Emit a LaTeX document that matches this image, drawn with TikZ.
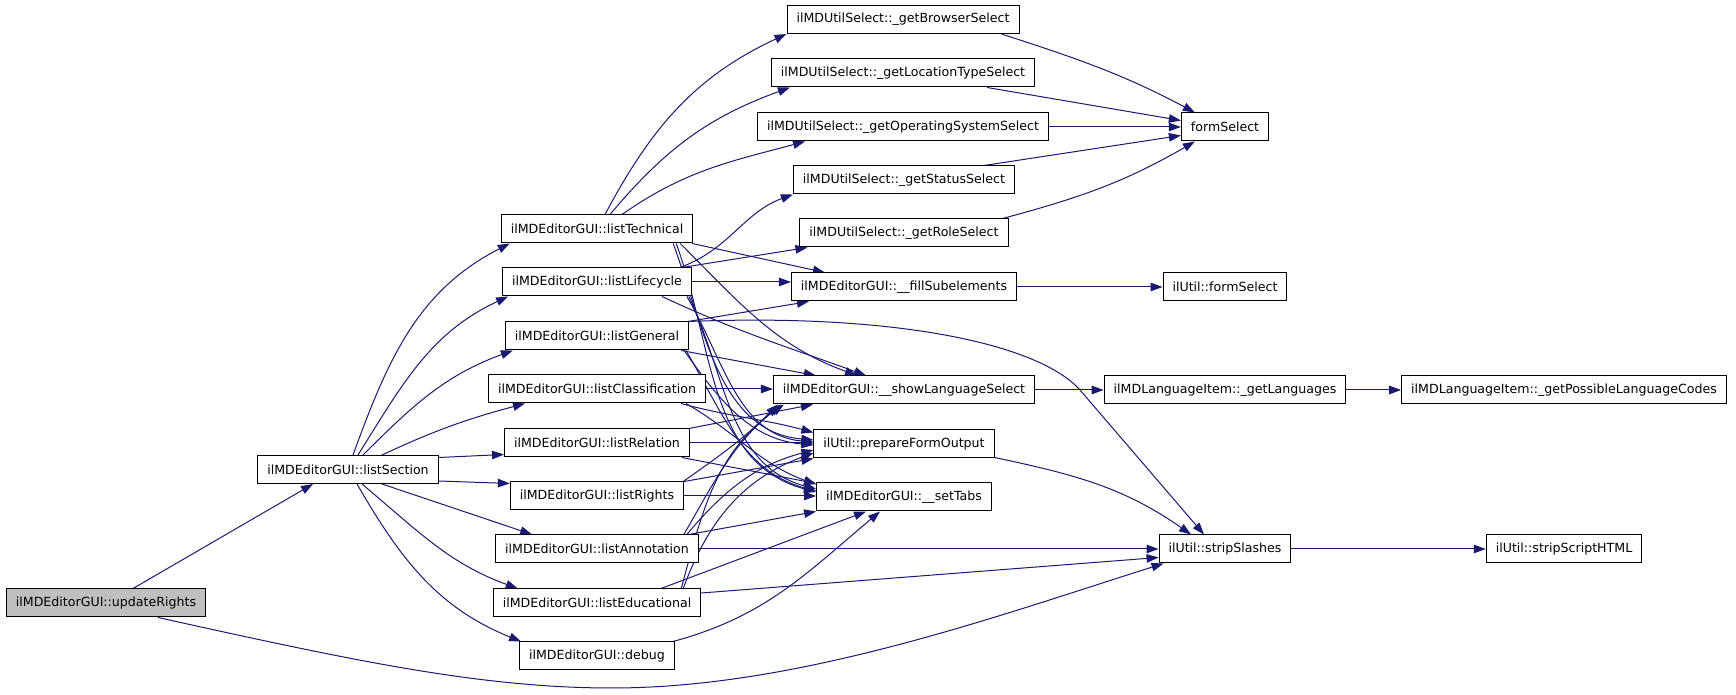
\documentclass[tikz,border=0pt]{standalone}
\usepackage{fontspec}
\setmainfont{DejaVu Sans}
\usetikzlibrary{arrows.meta,backgrounds}
\definecolor{edgecol}{HTML}{191970}
\definecolor{hl}{HTML}{BFBFBF}
\begin{document}
\begin{tikzpicture}[x=1pt,y=1pt,
  fn/.style={draw=black, line width=1pt, fill=white, minimum height=28pt, inner xsep=9.5pt, inner ysep=0pt, font=\fontsize{12.6}{14}\selectfont, anchor=center},
  e/.style={draw=edgecol, line width=1pt, -{Triangle[length=12pt,width=8.5pt]}}]
\useasboundingbox (0,0) rectangle (1736,695);
% nodes
\node[fn, fill=hl] (ur) at (106,92) {ilMDEditorGUI::updateRights};
\node[fn] (ls) at (348,225.5) {ilMDEditorGUI::listSection};
\node[fn] (lt) at (597,466) {ilMDEditorGUI::listTechnical};
\node[fn] (ll) at (597,413) {ilMDEditorGUI::listLifecycle};
\node[fn] (lg) at (597,359) {ilMDEditorGUI::listGeneral};
\node[fn] (lc) at (597,306) {ilMDEditorGUI::listClassification};
\node[fn] (lr) at (597,252) {ilMDEditorGUI::listRelation};
\node[fn] (lrt) at (597,199) {ilMDEditorGUI::listRights};
\node[fn] (la) at (597,146) {ilMDEditorGUI::listAnnotation};
\node[fn] (le) at (597,92) {ilMDEditorGUI::listEducational};
\node[fn] (dbg) at (597,39) {ilMDEditorGUI::debug};
\node[fn] (bs) at (903,675.5) {ilMDUtilSelect::\_getBrowserSelect};
\node[fn] (lts) at (903,622) {ilMDUtilSelect::\_getLocationTypeSelect};
\node[fn] (oss) at (903,568) {ilMDUtilSelect::\_getOperatingSystemSelect};
\node[fn] (ss) at (904,515) {ilMDUtilSelect::\_getStatusSelect};
\node[fn] (rs) at (904,462) {ilMDUtilSelect::\_getRoleSelect};
\node[fn] (fs) at (904,408) {ilMDEditorGUI::\_\_fillSubelements};
\node[fn] (sls) at (904,305) {ilMDEditorGUI::\_\_showLanguageSelect};
\node[fn] (pfo) at (904,251) {ilUtil::prepareFormOutput};
\node[fn] (st) at (904,198) {ilMDEditorGUI::\_\_setTabs};
\node[fn] (fsel) at (1225,568) {formSelect};
\node[fn] (ufs) at (1225,408) {ilUtil::formSelect};
\node[fn] (gl) at (1225,305) {ilMDLanguageItem::\_getLanguages};
\node[fn] (ssl) at (1225,146) {ilUtil::stripSlashes};
\node[fn] (gplc) at (1564,305) {ilMDLanguageItem::\_getPossibleLanguageCodes};
\node[fn] (ssh) at (1564,146) {ilUtil::stripScriptHTML};
\begin{scope}[on background layer]
% updateRights
\draw[e] ([xshift=27pt]ur.north) -- ([xshift=-35pt]ls.south);
\draw[e] ([xshift=52pt]ur.south) .. controls (350,35) and (480,7) .. (612,7) .. controls (800,7) and (1000,80) .. ([xshift=5pt]ssl.south west);
% listSection
\draw[e] ([xshift=5pt]ls.north) to[out=70,in=207] ([xshift=9pt]lt.south west);
\draw[e] ([xshift=10pt]ls.north) to[out=58,in=205] ([xshift=6pt]ll.south west);
\draw[e] ([xshift=15pt]ls.north) to[out=45,in=200] ([xshift=8pt]lg.south west);
\draw[e] ([xshift=34pt]ls.north) to[out=25,in=195] ([xshift=37pt]lc.south west);
\draw[e] ([yshift=-2.5pt]ls.north east) -- ([yshift=3pt]lr.south west);
\draw[e] ([yshift=3pt]ls.south east) -- ([yshift=-2pt]lrt.north west);
\draw[e] ([xshift=34pt]ls.south) -- ([xshift=37pt]la.north west);
\draw[e] ([xshift=14pt]ls.south) to[out=-40,in=160] ([xshift=25pt]le.north west);
\draw[e] ([xshift=9pt]ls.south) to[out=-60,in=158] ([xshift=2pt]dbg.north west);
% listTechnical
\draw[e] ([xshift=8pt]lt.north) to[out=62,in=205] (bs.south west);
\draw[e] ([xshift=13pt]lt.north) to[out=50,in=200] ([xshift=19pt]lts.south west);
\draw[e] ([xshift=25pt]lt.north) to[out=35,in=195] ([xshift=48pt]oss.south west);
\draw[e] ([xshift=-1pt]lt.south east) -- ([xshift=34pt]fs.north west);
\draw[e] ([xshift=-13pt]lt.south east) to[out=-45,in=160] ([xshift=-47pt]sls.north);
\draw[e] ([xshift=-20pt]lt.south east) to[out=-70,in=175] ([yshift=4pt]pfo.west);
\draw[e] ([xshift=-17pt]lt.south east) to[out=-70,in=165] ([yshift=5pt]st.west);
% listLifecycle
\draw[e] ([xshift=-12pt]ll.north east) to[out=20,in=200] (ss.south west);
\draw[e] ([xshift=-10pt]ll.north east) -- ([xshift=8pt]rs.south west);
\draw[e] (ll.east) -- (ll.east -| fs.west);
\draw[e] ([xshift=65pt]ll.south) to[out=-25,in=160] ([xshift=-38pt]sls.north);
\draw[e] ([xshift=-5pt]ll.south east) to[out=-60,in=175] ([yshift=2pt]pfo.west);
\draw[e] ([xshift=-3pt]ll.south east) to[out=-65,in=165] ([yshift=8pt]st.west);
% listGeneral
\draw[e] ([xshift=-1pt]lg.north east) -- ([xshift=18pt]fs.south west);
\draw[e] ([xshift=-1pt]lg.north east) .. controls (900,382) and (1040,350) .. (1080,305) -- ([xshift=-21pt]ssl.north);
\draw[e] ([xshift=-8pt]lg.south east) -- ([xshift=43pt]sls.north west);
\draw[e] ([xshift=-5pt]lg.south east) to[out=-55,in=175] ([yshift=-1pt]pfo.west);
\draw[e] ([xshift=-3pt]lg.south east) to[out=-60,in=165] ([yshift=6pt]st.west);
% listClassification
\draw[e] (lc.east) -- (lc.east -| sls.west);
\draw[e] ([xshift=-25pt]lc.south east) to[out=-15,in=165] ([yshift=-3pt]pfo.north west);
\draw[e] ([xshift=-20pt]lc.south east) to[out=-30,in=160] ([yshift=-2pt]st.north west);
% listRelation
\draw[e] ([xshift=-1pt]lr.north east) -- ([xshift=40pt]sls.south west);
\draw[e] (lr.east) -- (lr.east -| pfo.west);
\draw[e] ([xshift=-8pt]lr.south east) -- ([yshift=-1pt]st.north west);
% listRights
\draw[e] ([xshift=-1pt]lrt.north east) to[out=35,in=225] ([xshift=5pt]sls.south west);
\draw[e] (lrt.north east) -- (pfo.south west);
\draw[e] (lrt.east) -- (lrt.east -| st.west);
% listAnnotation
\draw[e] ([xshift=-15pt]la.north east) to[out=60,in=220] ([xshift=8pt]sls.south west);
\draw[e] ([xshift=-12pt]la.north east) to[out=50,in=195] ([yshift=-6pt]pfo.west);
\draw[e] ([xshift=-10pt]la.north east) -- (st.south west);
\draw[e] (la.east) -- (la.east -| ssl.west);
% listEducational
\draw[e] ([xshift=-20pt]le.north east) to[out=75,in=215] ([xshift=11pt]sls.south west);
\draw[e] ([xshift=-18pt]le.north east) to[out=70,in=200] ([yshift=-9pt]pfo.west);
\draw[e] ([xshift=64pt]le.north) -- ([xshift=-38pt]st.south);
\draw[e] ([yshift=10pt]le.east) -- ([yshift=6pt]ssl.south west);
% debug
\draw[e] ([xshift=-2pt]dbg.north east) to[out=15,in=220] ([xshift=-24pt]st.south);
% column 4 -> 5
\draw[e] ([xshift=-18pt]bs.south east) to[out=-18,in=152] ([xshift=14pt]fsel.north west);
\draw[e] ([xshift=-48pt]lts.south east) -- ([yshift=-8pt]fsel.north west);
\draw[e] (oss.east) -- (oss.east -| fsel.west);
\draw[e] ([xshift=-31pt]ss.north east) -- ([yshift=6pt]fsel.south west);
\draw[e] ([xshift=-6pt]rs.north east) to[out=15,in=210] ([xshift=14pt]fsel.south west);
\draw[e] (fs.east) -- (fs.east -| ufs.west);
\draw[e] (sls.east) -- (sls.east -| gl.west);
\draw[e] (gl.east) -- (gl.east -| gplc.west);
\draw[e] ([yshift=1pt]pfo.south east) to[out=-12,in=145] ([xshift=-34pt]ssl.north);
\draw[e] (ssl.east) -- (ssl.east -| ssh.west);
\end{scope}
\end{tikzpicture}
\end{document}
